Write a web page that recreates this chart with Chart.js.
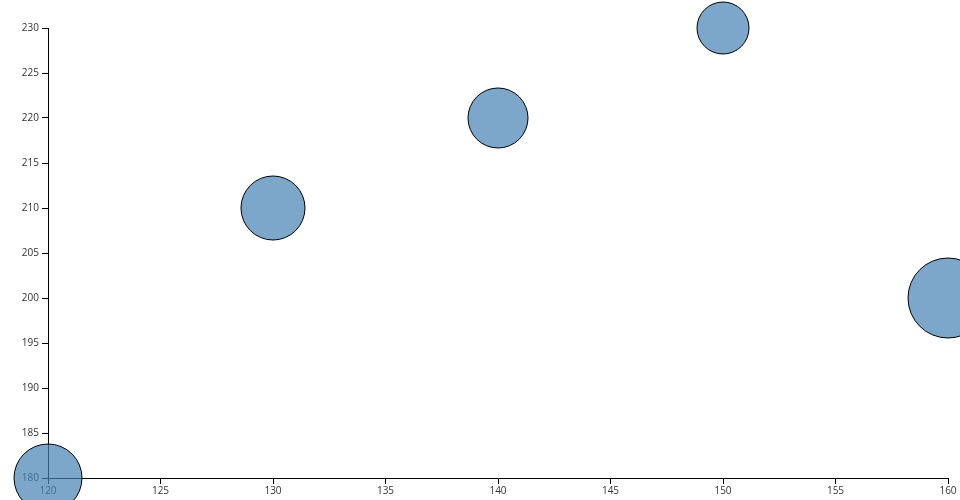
<!DOCTYPE html>
<html>
<head>
<meta charset="utf-8">
<script src="https://cdn.jsdelivr.net/npm/chart.js@4"></script>
<style>
html,body{margin:0;padding:0;background:#fff;}
#wrap{width:960px;height:500px;position:relative;}
</style>
</head>
<body>
<div id="wrap"><canvas id="c" width="960" height="500"></canvas></div>
<script>
const xValues = [120, 130, 140, 150, 160];
const yValues = [180, 210, 220, 230, 200];
const radii = [34, 32, 30, 26, 40];
const xTicks = [120, 125, 130, 135, 140, 145, 150, 155, 160];
const yTicks = [180, 185, 190, 195, 200, 205, 210, 215, 220, 225, 230];

const points = xValues.map((x, i) => ({x: x, y: yValues[i], r: radii[i]}));

new Chart(document.getElementById('c'), {
  type: 'bubble',
  data: {
    datasets: [{
      data: points,
      backgroundColor: 'rgba(70,130,180,0.7)',
      borderColor: '#000',
      borderWidth: 1,
      clip: false
    }]
  },
  options: {
    responsive: false,
    animation: false,
    events: [],
    layout: {autoPadding: false, padding: {top: 28, right: 12, left: 0, bottom: 0}},
    plugins: {legend: {display: false}, tooltip: {enabled: false}},
    scales: {
      x: {
        type: 'linear',
        min: 120, max: 160,
        afterBuildTicks: s => { s.ticks = xTicks.map(v => ({value: v})); },
        afterFit: s => { s.height = 22; },
        border: {display: true, color: '#000', width: 1},
        grid: {drawOnChartArea: false, drawTicks: true, tickLength: 6, color: '#000'},
        ticks: {font: {family: 'Open Sans', size: 10}, color: '#333', padding: 1, maxRotation: 0}
      },
      y: {
        type: 'linear',
        min: 180, max: 230,
        afterBuildTicks: s => { s.ticks = yTicks.map(v => ({value: v})); },
        afterFit: s => { s.width = 48; },
        border: {display: true, color: '#000', width: 1},
        grid: {drawOnChartArea: false, drawTicks: true, tickLength: 6, color: '#000'},
        ticks: {font: {family: 'Open Sans', size: 10}, color: '#333', padding: 3}
      }
    }
  }
});
</script>
</body>
</html>
